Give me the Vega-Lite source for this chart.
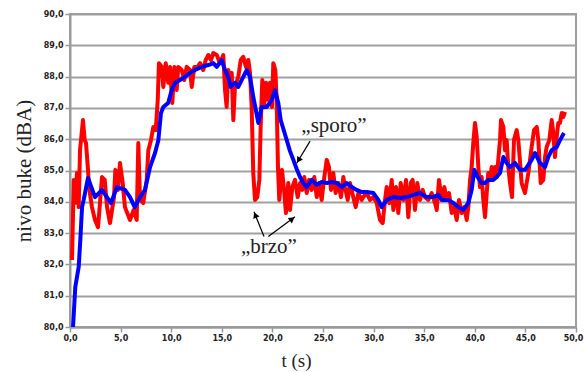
{
  "$schema": "https://vega.github.io/schema/vega-lite/v6.json",
  "width": 506,
  "height": 313,
  "autosize": {"type": "none"},
  "padding": {"left": 70, "top": 14, "right": 8, "bottom": 45},
  "background": "white",
  "config": {
    "view": {"stroke": "#a0a0a0", "strokeWidth": 2},
    "axis": {
      "labelFont": "DejaVu Sans",
      "labelFontWeight": "bold",
      "labelFontSize": 8,
      "labelColor": "#222222",
      "labelOverlap": false,
      "labelBound": false,
      "labelFlush": false,
      "tickColor": "#999999",
      "tickWidth": 1.5,
      "tickSize": 5,
      "domainColor": "#999999",
      "domainWidth": 2,
      "titleFont": "Liberation Serif",
      "titleFontWeight": "normal",
      "titleColor": "#222222"
    }
  },
  "datasets": {
    "sporo": [
      {"t":0.3,"L":80.0},{"t":0.52,"L":81.27},{"t":0.86,"L":81.92},{"t":1.02,"L":82.78},{"t":1.19,"L":83.83},{"t":1.35,"L":84.06},{"t":1.78,"L":84.76},{"t":2.47,"L":84.15},{"t":3.16,"L":84.38},{"t":4.05,"L":83.96},{"t":4.64,"L":84.47},{"t":5.43,"L":84.38},{"t":5.93,"L":84.15},{"t":6.39,"L":83.83},{"t":6.92,"L":84.15},{"t":7.41,"L":84.38},{"t":7.91,"L":85.11},{"t":8.40,"L":85.56},{"t":8.73,"L":85.97},{"t":8.99,"L":86.84},{"t":9.22,"L":87.03},{"t":9.71,"L":87.16},{"t":10.05,"L":87.57},{"t":10.38,"L":87.80},{"t":10.87,"L":87.89},{"t":11.36,"L":87.99},{"t":11.86,"L":88.12},{"t":12.35,"L":88.21},{"t":13.01,"L":88.31},{"t":13.67,"L":88.37},{"t":14.16,"L":88.43},{"t":14.50,"L":88.31},{"t":14.99,"L":88.53},{"t":15.32,"L":88.21},{"t":15.64,"L":87.99},{"t":15.88,"L":87.67},{"t":16.30,"L":87.80},{"t":16.63,"L":87.67},{"t":17.12,"L":87.99},{"t":17.46,"L":88.21},{"t":17.79,"L":87.99},{"t":18.11,"L":87.35},{"t":18.61,"L":86.52},{"t":18.94,"L":87.03},{"t":19.44,"L":87.03},{"t":19.93,"L":87.25},{"t":20.26,"L":87.57},{"t":20.58,"L":87.16},{"t":20.82,"L":86.61},{"t":21.25,"L":86.15},{"t":21.74,"L":85.62},{"t":22.07,"L":85.34},{"t":22.40,"L":85.05},{"t":22.73,"L":84.79},{"t":23.05,"L":84.60},{"t":23.39,"L":84.47},{"t":23.88,"L":84.70},{"t":24.38,"L":84.54},{"t":24.87,"L":84.63},{"t":25.37,"L":84.60},{"t":25.86,"L":84.63},{"t":26.35,"L":84.60},{"t":26.85,"L":84.47},{"t":27.34,"L":84.60},{"t":27.84,"L":84.47},{"t":28.33,"L":84.38},{"t":28.82,"L":84.31},{"t":29.32,"L":84.31},{"t":29.97,"L":84.28},{"t":30.46,"L":84.06},{"t":30.80,"L":83.83},{"t":31.29,"L":84.06},{"t":31.95,"L":84.15},{"t":32.61,"L":84.12},{"t":33.27,"L":84.15},{"t":33.92,"L":84.22},{"t":34.58,"L":84.28},{"t":35.25,"L":84.15},{"t":35.90,"L":84.15},{"t":36.39,"L":84.22},{"t":36.73,"L":84.06},{"t":37.38,"L":84.06},{"t":37.88,"L":83.96},{"t":38.37,"L":83.83},{"t":38.86,"L":83.74},{"t":39.36,"L":83.96},{"t":39.69,"L":84.38},{"t":39.95,"L":85.02},{"t":40.29,"L":84.79},{"t":40.68,"L":84.60},{"t":41.01,"L":84.60},{"t":41.33,"L":84.70},{"t":41.83,"L":84.70},{"t":42.16,"L":84.79},{"t":42.49,"L":84.92},{"t":42.82,"L":85.43},{"t":43.15,"L":85.24},{"t":43.48,"L":85.11},{"t":43.97,"L":85.24},{"t":44.47,"L":85.02},{"t":44.96,"L":85.02},{"t":45.62,"L":85.34},{"t":45.95,"L":85.56},{"t":46.44,"L":85.24},{"t":46.94,"L":85.11},{"t":47.26,"L":85.43},{"t":47.60,"L":85.65},{"t":48.09,"L":85.75},{"t":48.42,"L":85.97},{"t":48.81,"L":86.20}
    ],
    "brzo": [
      {"t":0.20,"L":82.14},{"t":0.37,"L":84.70},{"t":0.49,"L":83.96},{"t":0.69,"L":84.92},{"t":0.86,"L":83.83},{"t":0.99,"L":85.65},{"t":1.28,"L":86.61},{"t":1.45,"L":85.97},{"t":1.58,"L":85.88},{"t":1.78,"L":85.02},{"t":1.88,"L":84.47},{"t":2.17,"L":83.83},{"t":2.47,"L":83.42},{"t":2.77,"L":83.19},{"t":2.93,"L":83.83},{"t":3.16,"L":84.79},{"t":3.43,"L":84.70},{"t":3.66,"L":83.83},{"t":3.95,"L":83.32},{"t":4.35,"L":84.15},{"t":4.48,"L":85.02},{"t":4.74,"L":84.38},{"t":4.94,"L":85.24},{"t":5.21,"L":84.60},{"t":5.43,"L":83.83},{"t":5.93,"L":83.42},{"t":6.29,"L":83.74},{"t":6.59,"L":83.42},{"t":6.75,"L":85.88},{"t":6.92,"L":84.06},{"t":7.24,"L":83.96},{"t":7.58,"L":84.70},{"t":7.74,"L":85.65},{"t":8.00,"L":85.97},{"t":8.23,"L":86.39},{"t":8.47,"L":86.29},{"t":8.67,"L":87.25},{"t":8.79,"L":88.43},{"t":9.06,"L":88.31},{"t":9.22,"L":87.67},{"t":9.46,"L":88.43},{"t":9.71,"L":87.80},{"t":9.88,"L":88.31},{"t":10.11,"L":87.16},{"t":10.31,"L":88.31},{"t":10.54,"L":87.57},{"t":10.70,"L":88.31},{"t":11.04,"L":88.21},{"t":11.29,"L":87.89},{"t":11.53,"L":88.31},{"t":11.86,"L":88.21},{"t":12.03,"L":87.67},{"t":12.28,"L":88.31},{"t":12.62,"L":88.31},{"t":12.85,"L":88.43},{"t":13.17,"L":88.21},{"t":13.41,"L":88.53},{"t":13.67,"L":88.69},{"t":13.93,"L":88.53},{"t":14.16,"L":88.75},{"t":14.50,"L":88.69},{"t":14.82,"L":88.43},{"t":15.15,"L":88.69},{"t":15.32,"L":87.57},{"t":15.48,"L":87.03},{"t":15.64,"L":88.21},{"t":15.81,"L":87.89},{"t":15.98,"L":88.12},{"t":16.14,"L":86.61},{"t":16.30,"L":87.67},{"t":16.63,"L":87.99},{"t":16.87,"L":88.53},{"t":17.12,"L":88.63},{"t":17.39,"L":88.31},{"t":17.62,"L":88.53},{"t":17.79,"L":88.12},{"t":17.95,"L":87.03},{"t":18.11,"L":84.92},{"t":18.28,"L":84.06},{"t":18.51,"L":84.15},{"t":18.71,"L":84.70},{"t":18.84,"L":86.39},{"t":19.00,"L":87.89},{"t":19.17,"L":87.03},{"t":19.37,"L":87.80},{"t":19.59,"L":87.25},{"t":19.76,"L":87.80},{"t":19.96,"L":87.03},{"t":20.09,"L":88.43},{"t":20.29,"L":88.21},{"t":20.42,"L":87.25},{"t":20.55,"L":85.11},{"t":20.68,"L":84.06},{"t":20.82,"L":84.60},{"t":20.95,"L":85.02},{"t":21.15,"L":84.38},{"t":21.34,"L":83.64},{"t":21.57,"L":84.60},{"t":21.74,"L":83.74},{"t":21.97,"L":84.47},{"t":22.23,"L":84.70},{"t":22.50,"L":84.15},{"t":22.73,"L":84.60},{"t":22.95,"L":84.38},{"t":23.15,"L":84.79},{"t":23.39,"L":84.28},{"t":23.62,"L":84.70},{"t":23.88,"L":84.38},{"t":24.14,"L":84.79},{"t":24.38,"L":84.15},{"t":24.60,"L":84.60},{"t":24.87,"L":84.06},{"t":25.13,"L":84.79},{"t":25.37,"L":85.34},{"t":25.59,"L":85.11},{"t":25.79,"L":84.38},{"t":26.02,"L":84.92},{"t":26.25,"L":84.28},{"t":26.51,"L":84.60},{"t":26.78,"L":84.15},{"t":27.01,"L":84.79},{"t":27.17,"L":84.47},{"t":27.44,"L":84.06},{"t":27.67,"L":84.60},{"t":27.99,"L":84.15},{"t":28.23,"L":83.83},{"t":28.49,"L":84.28},{"t":28.82,"L":84.06},{"t":28.98,"L":84.15},{"t":29.32,"L":84.28},{"t":29.64,"L":84.06},{"t":29.97,"L":84.15},{"t":30.31,"L":83.96},{"t":30.63,"L":83.42},{"t":30.90,"L":83.32},{"t":31.13,"L":84.06},{"t":31.29,"L":84.47},{"t":31.55,"L":83.96},{"t":31.79,"L":84.70},{"t":31.95,"L":83.74},{"t":32.21,"L":84.47},{"t":32.44,"L":83.64},{"t":32.68,"L":84.60},{"t":32.94,"L":84.06},{"t":33.20,"L":84.70},{"t":33.43,"L":83.51},{"t":33.67,"L":84.60},{"t":33.86,"L":84.70},{"t":34.09,"L":83.74},{"t":34.32,"L":84.60},{"t":34.58,"L":84.06},{"t":34.85,"L":84.38},{"t":35.08,"L":84.15},{"t":35.41,"L":84.06},{"t":35.74,"L":84.28},{"t":36.07,"L":83.96},{"t":36.24,"L":83.74},{"t":36.46,"L":84.70},{"t":36.73,"L":84.06},{"t":36.99,"L":84.47},{"t":37.22,"L":84.06},{"t":37.45,"L":84.28},{"t":37.72,"L":83.64},{"t":37.97,"L":83.83},{"t":38.21,"L":83.42},{"t":38.44,"L":84.06},{"t":38.71,"L":83.64},{"t":38.96,"L":83.83},{"t":39.20,"L":83.42},{"t":39.36,"L":83.83},{"t":39.53,"L":84.70},{"t":39.69,"L":85.11},{"t":39.85,"L":85.88},{"t":40.02,"L":86.52},{"t":40.19,"L":86.07},{"t":40.35,"L":85.11},{"t":40.51,"L":84.47},{"t":40.68,"L":84.79},{"t":40.84,"L":84.06},{"t":41.01,"L":83.51},{"t":41.18,"L":84.28},{"t":41.33,"L":84.92},{"t":41.50,"L":84.70},{"t":41.67,"L":85.11},{"t":41.83,"L":84.79},{"t":42.00,"L":85.11},{"t":42.16,"L":84.79},{"t":42.32,"L":85.34},{"t":42.49,"L":85.97},{"t":42.59,"L":86.61},{"t":42.82,"L":86.39},{"t":42.98,"L":85.65},{"t":43.15,"L":85.97},{"t":43.31,"L":85.11},{"t":43.48,"L":84.60},{"t":43.68,"L":84.15},{"t":43.87,"L":85.97},{"t":44.14,"L":86.29},{"t":44.30,"L":85.97},{"t":44.63,"L":84.60},{"t":44.96,"L":84.28},{"t":45.29,"L":84.92},{"t":45.62,"L":85.75},{"t":45.85,"L":86.29},{"t":46.12,"L":86.39},{"t":46.28,"L":85.97},{"t":46.51,"L":84.60},{"t":46.77,"L":84.70},{"t":46.94,"L":85.43},{"t":47.10,"L":85.75},{"t":47.36,"L":85.97},{"t":47.60,"L":86.61},{"t":47.76,"L":86.20},{"t":47.92,"L":85.43},{"t":48.09,"L":86.07},{"t":48.25,"L":86.52},{"t":48.42,"L":86.52},{"t":48.59,"L":86.84},{"t":48.74,"L":86.71},{"t":48.91,"L":86.87}
    ]
  },
  "layer": [
    {
      "data": {"name": "brzo"},
      "mark": {"type": "line", "color": "#ff0000", "strokeWidth": 4, "strokeJoin": "round"},
      "encoding": {
        "x": {
          "field": "t", "type": "quantitative",
          "scale": {"domain": [0, 50], "nice": false},
          "axis": {
            "title": "t (s)",
            "values": [0, 5, 10, 15, 20, 25, 30, 35, 40, 45, 50],
            "tickCount": 20,
            "labelExpr": "replace(format(datum.value, '.1f'), '.', ',')",
            "labelOffset": {"condition": {"test": "datum.value == 50", "value": -3}, "value": 0},
            "grid": false,
            "labelPadding": 2,
            "titleFontSize": 19,
            "titleX": 226,
            "titleY": 39,
            "titleBaseline": "alphabetic"
          }
        },
        "y": {
          "field": "L", "type": "quantitative",
          "scale": {"domain": [80, 90], "nice": false, "zero": false},
          "axis": {
            "title": "nivo buke (dBA)",
            "values": [80, 81, 82, 83, 84, 85, 86, 87, 88, 89, 90],
            "tickCount": 20,
            "labelExpr": "replace(format(datum.value, '.1f'), '.', ',')",
            "grid": true,
            "gridColor": "#a0a0a0",
            "gridWidth": 2,
            "labelPadding": 2,
            "titleFontSize": 21,
            "titlePadding": 9
          }
        }
      }
    },
    {
      "data": {"name": "sporo"},
      "mark": {"type": "line", "color": "#0000ff", "strokeWidth": 4, "strokeJoin": "round"},
      "encoding": {
        "x": {"field": "t", "type": "quantitative"},
        "y": {"field": "L", "type": "quantitative"}
      }
    },
    {
      "data": {"values": [
        {"t": 23.72, "L": 85.94, "t2": 22.40, "L2": 85.23},
        {"t": 19.17, "L": 82.89, "t2": 18.18, "L2": 83.68},
        {"t": 19.60, "L": 82.89, "t2": 22.23, "L2": 83.52}
      ]},
      "mark": {"type": "rule", "color": "#000000", "strokeWidth": 1.2},
      "encoding": {
        "x": {"field": "t", "type": "quantitative"},
        "y": {"field": "L", "type": "quantitative"},
        "x2": {"field": "t2"},
        "y2": {"field": "L2"}
      }
    },
    {
      "data": {"values": [{"t": 22.58, "L": 85.33}]},
      "mark": {"type": "point", "shape": "triangle-up", "filled": true, "color": "#000000", "opacity": 1, "size": 45, "angle": 211.6},
      "encoding": {
        "x": {"field": "t", "type": "quantitative"},
        "y": {"field": "L", "type": "quantitative"}
      }
    },
    {
      "data": {"values": [{"t": 18.31, "L": 83.58}]},
      "mark": {"type": "point", "shape": "triangle-up", "filled": true, "color": "#000000", "opacity": 1, "size": 45, "angle": 338},
      "encoding": {
        "x": {"field": "t", "type": "quantitative"},
        "y": {"field": "L", "type": "quantitative"}
      }
    },
    {
      "data": {"values": [{"t": 21.95, "L": 83.45}]},
      "mark": {"type": "point", "shape": "triangle-up", "filled": true, "color": "#000000", "opacity": 1, "size": 45, "angle": 53},
      "encoding": {
        "x": {"field": "t", "type": "quantitative"},
        "y": {"field": "L", "type": "quantitative"}
      }
    },
    {
      "data": {"values": [
        {"t": 26.09, "L": 86.23, "label": "„sporo”"},
        {"t": 19.66, "L": 82.36, "label": "„brzo”"}
      ]},
      "mark": {"type": "text", "font": "Liberation Serif", "fontSize": 21, "align": "center", "baseline": "alphabetic", "color": "#222222"},
      "encoding": {
        "x": {"field": "t", "type": "quantitative"},
        "y": {"field": "L", "type": "quantitative"},
        "text": {"field": "label"}
      }
    }
  ]
}
